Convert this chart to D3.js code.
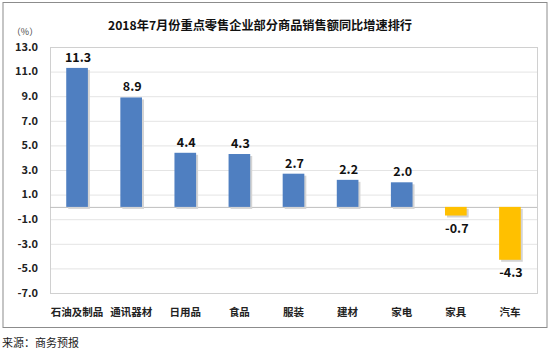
<!DOCTYPE html>
<html>
<head>
<meta charset="utf-8">
<script src="https://cdn.jsdelivr.net/npm/d3@7"></script>
<style>
  body { margin: 0; background: #fff; }
  text { font-family: "Microsoft YaHei", "Noto Sans CJK SC", sans-serif; }
</style>
</head>
<body>
<svg id="chart" width="550" height="353"></svg>
<script>
// chart data
var categories = ["石油及制品", "通讯器材", "日用品", "食品", "服装", "建材", "家电", "家具", "汽车"];
var values = [11.3, 8.9, 4.4, 4.3, 2.7, 2.2, 2.0, -0.7, -4.3];
var yTicks = [13, 11, 9, 7, 5, 3, 1, -1, -3, -5, -7];
var title = "2018年7月份重点零售企业部分商品销售额同比增速排行";
var source = "来源：商务预报";

var svg = d3.select("#chart");

// outer frame
svg.append("rect")
    .attr("x", 3).attr("y", 2.5)
    .attr("width", 544).attr("height", 325)
    .attr("fill", "#fff")
    .attr("stroke", "#8c8c8c")
    .attr("stroke-width", 1);

// plot area bounds
var plotLeft = 50, plotRight = 537, plotTop = 47, plotBottom = 293;

var x = d3.scaleBand()
    .domain(categories)
    .range([plotLeft, plotRight])
    .paddingInner(0.6)
    .paddingOuter(0.3);

var y = d3.scaleLinear()
    .domain([-7, 13])
    .range([plotBottom, plotTop]);

// gridlines
svg.append("g")
  .selectAll("line")
  .data(yTicks)
  .enter()
  .append("line")
    .attr("x1", plotLeft).attr("x2", plotRight)
    .attr("y1", function(d) { return y(d) + 0.5; })
    .attr("y2", function(d) { return y(d) + 0.5; })
    .attr("stroke", "#e4e4e4")
    .attr("stroke-width", 1);

// plot border
svg.append("rect")
    .attr("x", plotLeft + 0.5).attr("y", plotTop + 0.5)
    .attr("width", plotRight - plotLeft).attr("height", plotBottom - plotTop)
    .attr("fill", "none")
    .attr("stroke", "#d0d0d0");

// zero line
svg.append("line")
    .attr("x1", plotLeft).attr("x2", plotRight)
    .attr("y1", y(0) + 0.5).attr("y2", y(0) + 0.5)
    .attr("stroke", "#bfbfbf");

// y tick labels
svg.append("g")
  .selectAll("text")
  .data(yTicks)
  .enter()
  .append("text")
    .attr("x", 38)
    .attr("y", function(d) { return y(d); })
    .attr("dy", "0.35em")
    .attr("text-anchor", "end")
    .style("font-size", "11px")
    .style("font-weight", "bold")
    .attr("fill", "#222")
    .text(function(d) { return d.toFixed(1); });

svg.append("text")
    .attr("x", 25).attr("y", 35)
    .attr("text-anchor", "middle")
    .style("font-size", "9px")
    .attr("fill", "#444")
    .text("（%）");

// bar shadows
svg.append("g")
  .selectAll("rect")
  .data(values)
  .enter()
  .append("rect")
    .attr("x", function(d, i) { return x(categories[i]) + 2; })
    .attr("y", function(d) { return Math.min(y(d), y(0)) + 2; })
    .attr("width", x.bandwidth())
    .attr("height", function(d) { return Math.abs(y(d) - y(0)); })
    .attr("fill", "#d4d4d4");

// bars
svg.append("g")
  .selectAll("rect")
  .data(values)
  .enter()
  .append("rect")
    .attr("x", function(d, i) { return x(categories[i]); })
    .attr("y", function(d) { return Math.min(y(d), y(0)); })
    .attr("width", x.bandwidth())
    .attr("height", function(d) { return Math.abs(y(d) - y(0)); })
    .attr("fill", function(d) { return d < 0 ? "#ffc000" : "#4f7fc1"; });

// value labels
svg.append("g")
  .selectAll("text")
  .data(values)
  .enter()
  .append("text")
    .attr("x", function(d, i) { return x(categories[i]) + x.bandwidth() / 2 + 1; })
    .attr("y", function(d) { return d < 0 ? y(d) + 17 : y(d) - 6; })
    .attr("text-anchor", "middle")
    .style("font-size", "12.5px")
    .style("font-weight", "bold")
    .attr("fill", "#111")
    .text(function(d) { return d.toFixed(1); });

// category labels
svg.append("g")
  .selectAll("text")
  .data(categories)
  .enter()
  .append("text")
    .attr("x", function(d) { return x(d) + x.bandwidth() / 2; })
    .attr("y", 316)
    .attr("text-anchor", "middle")
    .style("font-size", "10.5px")
    .style("font-weight", "bold")
    .attr("fill", "#222")
    .text(function(d) { return d; });

// title
svg.append("text")
    .attr("x", 260).attr("y", 30)
    .attr("text-anchor", "middle")
    .style("font-size", "12.2px")
    .style("font-weight", "bold")
    .attr("fill", "#111")
    .text(title);

// source
svg.append("text")
    .attr("x", 2).attr("y", 347)
    .style("font-size", "11px")
    .attr("fill", "#222")
    .text(source);
</script>
</body>
</html>
